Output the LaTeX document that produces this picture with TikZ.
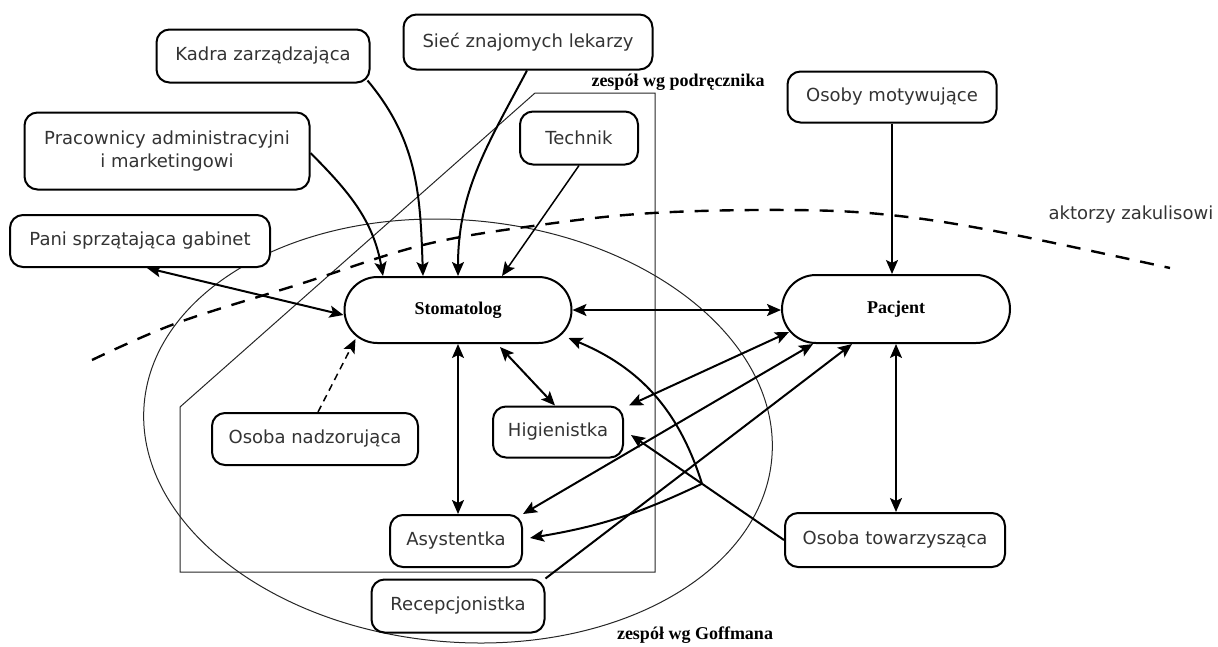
\documentclass[tikz,border=0pt]{standalone}
\usepackage{fontspec}
\setmainfont{DejaVu Sans}
\newfontfamily\serifbold{Liberation Serif}
\usetikzlibrary{arrows.meta,calc}
\pgfdeclarelayer{bg}
\pgfdeclarelayer{mid}
\pgfsetlayers{bg,mid,main}
\begin{document}
\begin{tikzpicture}[x=1pt,y=1pt,
  box/.style={draw=black, line width=2pt, rounded corners=13pt, fill=white, text=black!80,
    font=\fontsize{18}{23}\selectfont, inner sep=0pt, align=center},
  stad/.style={draw=black, line width=2pt, fill=white, text=black,
    font=\serifbold\bfseries\fontsize{18}{22}\selectfont, inner sep=0pt},
  lbl/.style={font=\serifbold\bfseries\fontsize{18}{22}\selectfont, inner sep=0pt, text=black},
  plain/.style={font=\fontsize{18}{22}\selectfont, inner sep=0pt, text=black!80},
  tip/.tip={Stealth[length=14pt,width=12pt,inset=3pt]},
  conn/.style={line width=2pt, -tip},
  bi/.style={line width=2pt, tip-tip},
  dconn/.style={line width=1.5pt, dash pattern=on 7pt off 5pt, -tip},
  thinline/.style={line width=1pt, draw=black!85},
  backstage/.style={line width=2.4pt, dash pattern=on 14pt off 11pt}
]
\useasboundingbox (0,0) rectangle (1218,-646);

% nodes
\node[box, minimum width=213pt, minimum height=53pt] (kadra) at (263,-56) {Kadra zarządzająca};
\node[box, minimum width=249pt, minimum height=55pt] (siec) at (528,-42) {Sieć znajomych lekarzy};
\node[box, minimum width=285pt, minimum height=77pt] (prac) at (167,-151) {Pracownicy administracyjni\\i marketingowi};
\node[box, minimum width=260pt, minimum height=52pt] (pani) at (140,-241) {Pani sprzątająca gabinet};
\node[box, minimum width=118pt, minimum height=53pt] (tech) at (579,-138) {Technik};
\node[box, minimum width=209pt, minimum height=51pt] (motyw) at (892,-97) {Osoby motywujące};
\node[stad, rounded corners=33pt, minimum width=227pt, minimum height=66pt] (stom) at (458,-310) {Stomatolog};
\node[stad, rounded corners=34pt, minimum width=228pt, minimum height=68pt] (pac) at (896,-309) {Pacjent};
\node[box, minimum width=206pt, minimum height=52pt] (nadz) at (315,-439) {Osoba nadzorująca};
\node[box, minimum width=130pt, minimum height=51pt] (hig) at (558,-432) {Higienistka};
\node[box, minimum width=132pt, minimum height=52pt] (asys) at (456,-541) {Asystentka};
\node[box, minimum width=173pt, minimum height=53pt] (recep) at (458,-606) {Recepcjonistka};
\node[box, minimum width=220pt, minimum height=54pt] (tow) at (895,-540) {Osoba towarzysząca};

\node[lbl] (lpod) at (678,-82) {zespół wg podręcznika};
\node[lbl] (lgof) at (695,-635) {zespół wg Goffmana};
\node[plain] (lakt) at (1131,-215) {aktorzy zakulisowi};

\begin{pgfonlayer}{bg}
\draw[thinline, rotate around={-5:(458,-431)}] (458,-431) ellipse [x radius=315, y radius=211];
\draw[thinline] (535,-93) -- (655,-93) -- (655,-572) -- (180,-572) -- (180,-407) -- cycle;
\draw[backstage] plot[smooth, tension=0.6] coordinates {(92,-360) (177,-323) (300,-284) (423,-245) (540,-225) (653,-213) (790,-210) (890,-215) (1000,-232) (1170,-268)};
\end{pgfonlayer}

\begin{pgfonlayer}{mid}
\draw[conn] ([yshift=-2pt]prac.east) to[out=-45,in=100] ([xshift=-75pt]stom.north);
\draw[conn] ([xshift=-3pt,yshift=3pt]kadra.south east) to[out=-50,in=92] ([xshift=-35pt]stom.north);
\draw[conn] ([xshift=-1pt]siec.south) to[out=-118,in=90] (stom.north);
\draw[conn, line width=1.5pt] (tech.south) -- ([xshift=44pt]stom.north);
\draw[bi] ([xshift=7pt]pani.south) -- ([yshift=-5pt]stom.west);
\draw[dconn] ([xshift=3pt]nadz.north) -- ([xshift=12pt,yshift=5pt]stom.south west);
\draw[bi] (stom.east) -- (stom.east -| pac.west);
\draw[bi] (stom.south) -- (stom.south |- asys.north);
\draw[bi] ([xshift=42pt,yshift=-3pt]stom.south) -- ([xshift=-3pt]hig.north);
\draw[bi] ([xshift=8pt,yshift=12pt]pac.south west) -- ([xshift=5pt]hig.north east);
\draw[bi] ([xshift=-83pt]pac.south) -- (asys.north east);
\draw[conn] (recep.north east) -- ([xshift=-44pt]pac.south);
\draw[conn] (motyw.south) -- (motyw.south |- pac.north);
\draw[bi] (pac.south) -- (pac.south |- tow.north);
\coordinate (higtip) at ([xshift=7pt,yshift=-3pt]hig.east);
\draw[conn] (tow.west) -- (higtip);
\coordinate (br) at ($(tow.west)!0.536!(higtip)$);
\draw[conn] (br) to[bend right=25] ([xshift=-4pt,yshift=6pt]stom.south east);
\draw[conn] (br) to[bend left=8] ([xshift=7pt,yshift=3pt]asys.east);
\end{pgfonlayer}
\end{tikzpicture}
\end{document}
